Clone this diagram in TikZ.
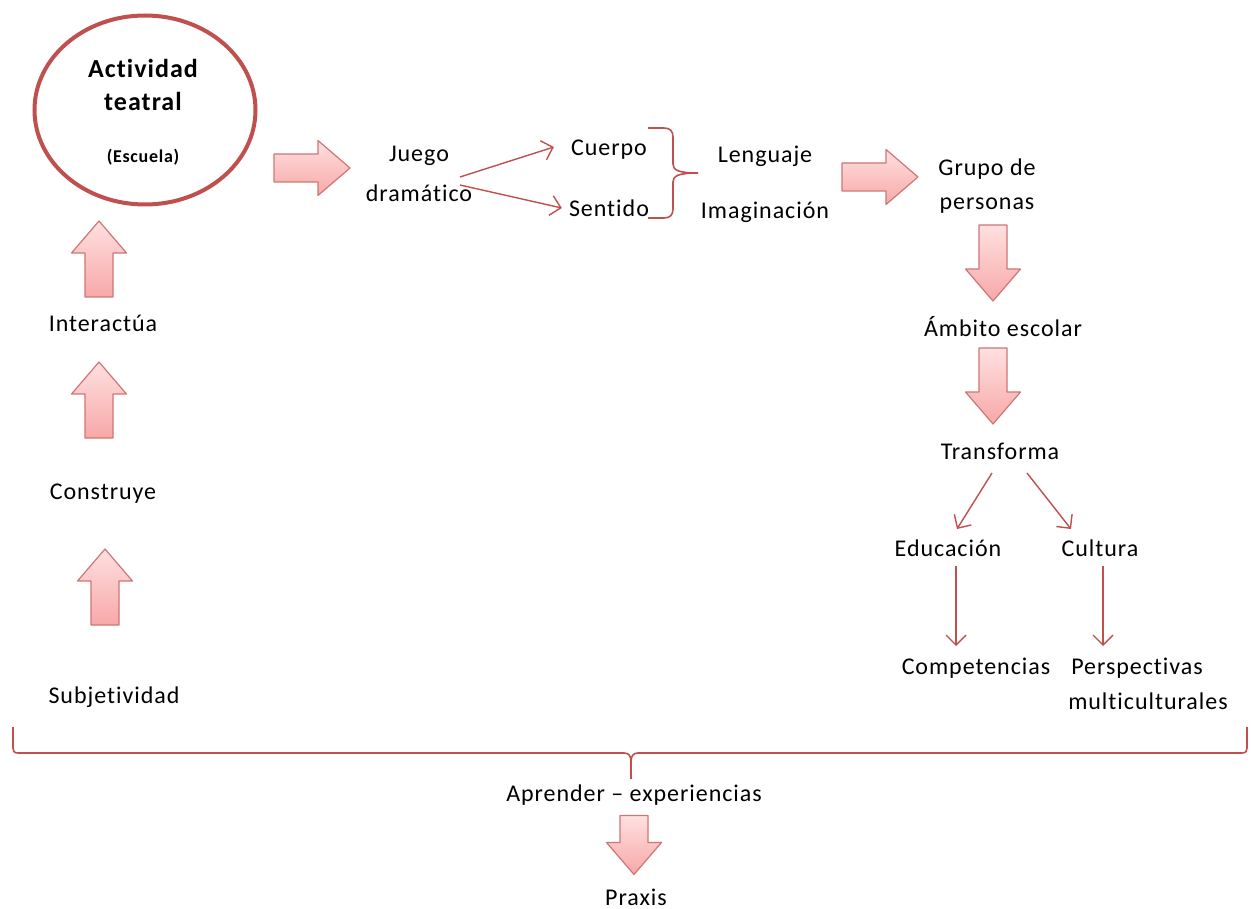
\documentclass[tikz,border=0pt]{standalone}
\usepackage{fontspec}
\setmainfont{Carlito}[LetterSpace=4.0,Ligatures={NoCommon,NoRare}]
\usetikzlibrary{arrows.meta,shapes.geometric}
\definecolor{accent}{HTML}{C0504D}
\definecolor{arrowlight}{HTML}{FFE0E0}
\definecolor{arrowdark}{HTML}{F7A8A8}
\definecolor{arrowedge}{HTML}{D07575}
\tikzset{
  alen/.store in=\alen, alen=76,
  barrow/.pic={
    \pgfmathsetmacro{\ha}{\alen/2}
    \pgfmathsetmacro{\hb}{\alen/2-32}
    \draw[arrowedge, line width=1.2pt, line join=round, left color=arrowlight, right color=arrowdark, shading angle=0]
      (-\ha,-14) -- (\hb,-14) -- (\hb,-27.5) -- (\ha,0) -- (\hb,27.5) -- (\hb,14) -- (-\ha,14) -- cycle;
  },
  lbl/.style={font=\fontsize{24}{29}\selectfont, inner sep=1pt, align=center},
  thin/.style={draw=accent, line width=1.4pt, -{Straight Barb[length=10pt,width=20pt,line width=1.4pt]}},
  bracel/.style={draw=accent, line width=1.6pt, line join=round}
}
\begin{document}
\begin{tikzpicture}[x=1pt,y=-1pt]
\useasboundingbox (0,0) rectangle (1251,909);
% main ellipse
\node[draw=accent, line width=4pt, ellipse, minimum width=221pt, minimum height=189pt, inner sep=0pt] (act) at (145,110) {};
\node[lbl, font=\fontsize{26}{31}\selectfont\bfseries] (actt) at (143,68) {Actividad};
\node[lbl, font=\fontsize{26}{31}\selectfont\bfseries] (teat) at (143,101) {teatral};
\node[lbl, font=\fontsize{18}{22}\selectfont\bfseries] (esc) at (143,157) {(Escuela)};

% left column
\pic (a1) at (99,259) [rotate=90] {barrow};
\node[lbl] (inter) at (103,323) {Interactúa};
\pic (a2) at (99,400) [rotate=90] {barrow};
\node[lbl] (cons) at (103,494) {Construye};
\pic (a3) at (105,587) [rotate=90] {barrow};
\node[lbl] (subj) at (114,697) {Subjetividad};

% top row
\pic (a4) at (312,168) {barrow};
\node[lbl] (juego) at (419,156) {Juego};
\node[lbl] (dram) at (419,193) {dramático};
\node[lbl] (cuer) at (609,150) {Cuerpo};
\node[lbl] (sent) at (609,208) {Sentido};
\coordinate (j1) at (460,177);
\coordinate (j2) at (460,185);
\draw[thin] (j1) -- ([xshift=-16pt,yshift=3pt]cuer.west);
\draw[thin] (j2) -- ([xshift=-6pt]sent.west);
\draw[bracel] (648,128) -- (664,128) .. controls (670,128) and (673,131) .. (673,137) -- (673,164)
  .. controls (673,170) and (678,173) .. (698,173);
\draw[bracel] (648,218) -- (664,218) .. controls (670,218) and (673,215) .. (673,209) -- (673,182)
  .. controls (673,176) and (678,173) .. (698,173);
\node[lbl] (leng) at (765,156) {Lenguaje};
\node[lbl] (imag) at (765,212) {Imaginación};
\pic (a5) at (880,177) {barrow};
\node[lbl] (grupo) at (987,169) {Grupo de};
\node[lbl] (pers) at (987,206) {personas};

% right column
\pic (a6) at (993,263) [rotate=-90] {barrow};
\node[lbl] (amb) at (1003,327) {Ámbito escolar};
\pic (a7) at (993,386) [rotate=-90] {barrow};
\node[lbl] (trans) at (1000,451) {Transforma};
\node[lbl] (edu) at (948,548) {Educación};
\node[lbl] (cult) at (1100,548) {Cultura};
\coordinate (t1) at (992,473);
\coordinate (t2) at (1027,473);
\draw[thin] (t1) -- (957,529);
\draw[thin] (t2) -- (1071,529);
\node[lbl] (comp) at (976,668) {Competencias};
\node[lbl] (persp1) at (1137,668) {Perspectivas};
\node[lbl] (persp2) at (1148,701) {multiculturales};
\draw[thin] (956,566) -- (956,646);
\draw[thin] (1103,566) -- (1103,646);

% bottom brace
\draw[bracel] (13,727) -- (13,748) .. controls (13,751) and (14,753) .. (18,753) -- (624,753)
  .. controls (629,753) and (631,756) .. (631,762) -- (631,779);
\draw[bracel] (1247,727) -- (1247,748) .. controls (1247,751) and (1246,753) .. (1242,753) -- (638,753)
  .. controls (633,753) and (631,756) .. (631,762);
\node[lbl] (apr) at (634,795) {Aprender – experiencias};
\pic (a8) at (634,845) [rotate=-90, alen=59] {barrow};
\node[lbl] (prax) at (636,897) {Praxis};
\end{tikzpicture}
\end{document}
